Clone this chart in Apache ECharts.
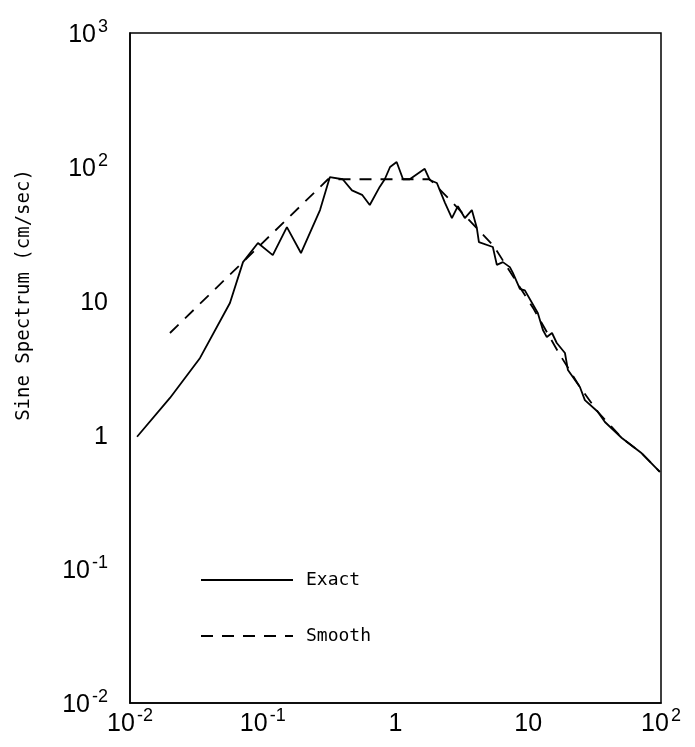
<!DOCTYPE html>
<html>
<head>
<meta charset="utf-8">
<script src="https://cdn.jsdelivr.net/npm/echarts@6/dist/echarts.min.js"></script>
<style>
html,body{margin:0;padding:0;background:#fff;}
#chart{width:695px;height:747px;}
</style>
</head>
<body>
<div id="chart"></div>
<script>
// Data (frequency, Sine spectrum cm/sec)
const exactX = [0.0113,0.020,0.0337,0.0566,0.071,0.092,0.119,0.152,0.194,0.27,0.32,0.40,0.47,0.56,0.64,0.76,0.83,0.91,1.02,1.14,1.28,1.66,1.81,2.05,2.16,2.36,2.66,2.95,3.33,3.76,4.10,4.25,5.41,5.80,6.44,7.27,7.66,8.65,9.43,11.8,12.9,13.8,15.1,16.4,18.9,19.9,24.5,26.7,33.4,37.8,50.7,71.6,98];
const exactY = [0.97,1.89,3.76,9.66,19.5,27.1,22.0,35.6,22.8,47.7,84,81,67,62,52,71,81,100,109,81,81,97,80,76,67,54,41.6,51,41.6,47.7,35,27.5,25.3,18.6,19.5,17.9,16.2,12.3,12.0,8.13,6.08,5.38,5.77,4.86,4.09,3.05,2.28,1.82,1.49,1.25,0.95,0.73,0.53];
const smoothX = [0.020,0.31,1.81,2.57,5.5,11.0,17.0,24.5,33.4,50.7,71.6,98];
const smoothY = [5.77,81,81,56.8,25.7,8.7,4.09,2.28,1.49,0.95,0.73,0.53];
const seriesNames = ['Exact','Smooth'];
const yTitle = 'Sine Spectrum (cm/sec)';
const tickLabels = {'0.01':['10','-2'],'0.1':['10','-1'],'1':['1',''],'10':['10',''],'100':['10','2'],'1000':['10','3']};

function fmt(v){
  const key = String(+v.toPrecision(6));
  const t = tickLabels[key];
  if(!t) return '';
  return t[1] ? '{b|'+t[0]+'}{s|'+t[1]+'}' : '{b|'+t[0]+'}';
}
const rich = {
  b:{fontFamily:'Liberation Sans',fontSize:25,color:'#000',verticalAlign:'bottom',lineHeight:30},
  s:{fontFamily:'Liberation Sans',fontSize:18,color:'#000',verticalAlign:'top',padding:[0,0,14,2],lineHeight:30}
};

const chart = echarts.init(document.getElementById('chart'));
chart.setOption({
  backgroundColor:'#fff',
  animation:false,
  grid:{left:130,right:34,top:33,bottom:44,show:true,borderColor:'#000',borderWidth:1.5,backgroundColor:'transparent'},
  xAxis:{type:'log',logBase:10,min:0.01,max:100,
    axisLine:{show:true,lineStyle:{color:'#000',width:1.5}},
    axisTick:{show:false},splitLine:{show:false},minorTick:{show:false},
    axisLabel:{formatter:fmt,rich:rich,margin:4,showMinLabel:true,showMaxLabel:true}},
  yAxis:{type:'log',logBase:10,min:0.01,max:1000,
    name:yTitle,nameLocation:'middle',nameGap:96,
    nameTextStyle:{fontFamily:'DejaVu Sans Mono',fontSize:19,color:'#000',padding:[0,0,0,146]},
    axisLine:{show:true,lineStyle:{color:'#000',width:1.5}},
    axisTick:{show:false},splitLine:{show:false},
    axisLabel:{formatter:fmt,rich:rich,margin:22,showMinLabel:true,showMaxLabel:true}},
  legend:{orient:'vertical',left:195,top:566,itemWidth:92,itemHeight:16,itemGap:38,
    itemStyle:{opacity:0},
    textStyle:{fontFamily:'DejaVu Sans Mono',fontSize:18,color:'#000',padding:[0,0,0,8]},
    data:seriesNames},
  series:[
    {name:seriesNames[0],type:'line',data:exactX.map((x,i)=>[x,exactY[i]]),symbol:'none',
      lineStyle:{color:'#000',width:1.8},itemStyle:{color:'#000'}},
    {name:seriesNames[1],type:'line',data:smoothX.map((x,i)=>[x,smoothY[i]]),symbol:'none',
      lineStyle:{color:'#000',width:1.8,type:[12,9]},itemStyle:{color:'#000'}}
  ]
});
</script>
</body>
</html>
